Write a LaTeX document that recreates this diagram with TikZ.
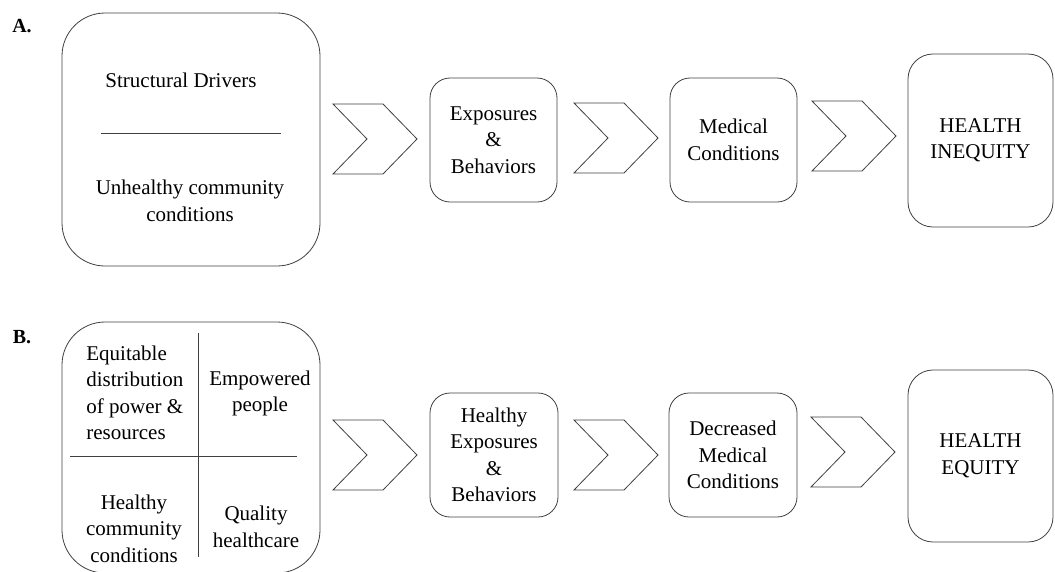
\documentclass[tikz,border=0pt]{standalone}
\usepackage{fontspec}
\setmainfont{Liberation Serif}
\begin{document}
\begin{tikzpicture}[x=1pt,y=-1pt,
  line width=0.8pt,
  outline/.style={draw=black!75},
  txt/.style={font=\fontsize{21}{26.5}\selectfont, align=center, inner sep=0pt},
  rbox/.style={outline, rectangle, rounded corners=#1, txt},
  rbox/.default=20pt,
  panel/.style={font=\fontsize{20}{22}\selectfont\bfseries, inner sep=0pt},
  pics/chevron/.style={code={
    \draw[outline, line join=miter]
      (-42,-35) -- (8,-35) -- (42,0) -- (8,35) -- (-42,35) -- (-8,0) -- cycle;}}
]
\useasboundingbox (0,0) rectangle (1055,571);
\clip (0,0) rectangle (1055,571);

% ---------- Row A: current pathway ----------
\node[panel] (labA) at (22,26) {A.};

\node[rbox=43pt, minimum width=258pt, minimum height=253pt] (drvA) at (191,139.5) {};
\node[txt] (sd) at (181,80) {Structural Drivers};
\coordinate (sepL) at (101,133);
\coordinate (sepR) at (281,133);
\draw[outline] (sepL) -- (sepR);
\node[txt] (ucc) at (190,201) {Unhealthy community\\conditions};

\pic at (375,139) {chevron};
\node[rbox, minimum width=127pt, minimum height=124pt] (expA) at (493.5,140) {Exposures\\\&\\Behaviors};
\pic at (616,138) {chevron};
\node[rbox, minimum width=127pt, minimum height=124pt] (medA) at (733.5,140) {Medical\\Conditions};
\pic at (854,136) {chevron};
\node[rbox=25pt, minimum width=145pt, minimum height=173pt] (ineq) at (980.5,140.5) {HEALTH\\INEQUITY};

% ---------- Row B: equitable pathway ----------
\node[panel] (labB) at (22,337) {B.};

\node[rbox=43pt, minimum width=258pt, minimum height=251pt] (drvB) at (191,447.5) {};
\coordinate (vT) at (198,333);
\coordinate (vB) at (198,557);
\coordinate (hL) at (70,456);
\coordinate (hR) at (297,456);
\draw[outline] (vT) -- (vB);
\draw[outline] (hL) -- (hR);
\node[txt, align=left, anchor=west] (q1) at (86,393) {Equitable\\distribution\\of power \&\\resources};
\node[txt] (q2) at (260,393.5) {Empowered\\people};
\node[txt] (q3) at (134,528.5) {Healthy\\community\\conditions};
\node[txt] (q4) at (256,527) {Quality\\healthcare};

\pic at (375,455) {chevron};
\node[rbox, minimum width=128pt, minimum height=124pt] (expB) at (494,455) {Healthy\\Exposures\\\&\\Behaviors};
\pic at (616,455) {chevron};
\node[rbox, minimum width=128pt, minimum height=124pt] (decB) at (733,455) {Decreased\\Medical\\Conditions};
\pic at (853,452) {chevron};
\node[rbox=25pt, minimum width=145pt, minimum height=172pt] (eq) at (980.5,456) {HEALTH\\EQUITY};
\end{tikzpicture}
\end{document}
